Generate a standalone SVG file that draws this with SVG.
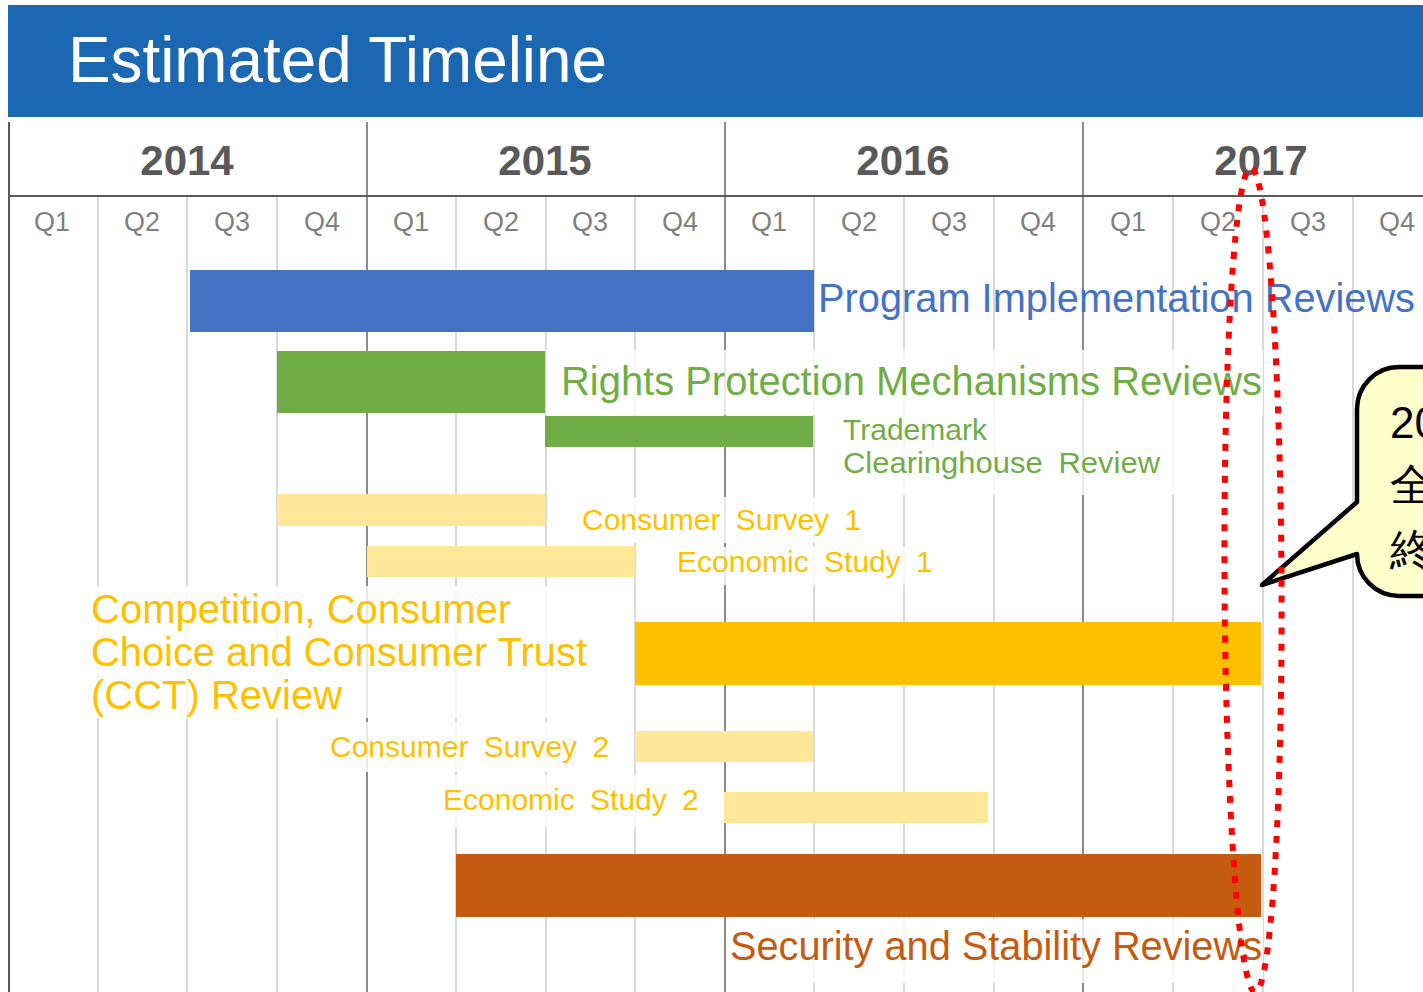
<svg xmlns="http://www.w3.org/2000/svg" width="1423" height="992" viewBox="0 0 1423 992">
<style>
  text { font-family: "Liberation Sans", Arial, sans-serif; }
  .yr { font-size: 42px; font-weight: bold; fill: #595959; text-anchor: middle; }
  .q { font-size: 27px; fill: #7f7f7f; text-anchor: middle; }
  .qline { stroke: #d9d9d9; stroke-width: 2; }
  .yline { stroke: #8c8c8c; stroke-width: 2; }
  .big { font-size: 40px; }
  .small { font-size: 30px; word-spacing: 7px; }
  .bg { fill: #ffffff; opacity: 0.8; }
</style>
<rect x="0" y="0" width="1423" height="992" fill="#ffffff"/>

<g id="header">
  <rect x="8" y="5" width="1415" height="112" fill="#1b67b1"/>
  <text x="68" y="82" font-size="64" fill="#ffffff" textLength="539" lengthAdjust="spacingAndGlyphs">Estimated Timeline</text>
</g>

<g id="grid">
  <g class="qline-set">
    <line class="qline" x1="98" y1="196" x2="98" y2="992"/>
    <line class="qline" x1="187" y1="196" x2="187" y2="992"/>
    <line class="qline" x1="277" y1="196" x2="277" y2="992"/>
    <line class="qline" x1="456" y1="196" x2="456" y2="992"/>
    <line class="qline" x1="546" y1="196" x2="546" y2="992"/>
    <line class="qline" x1="635" y1="196" x2="635" y2="992"/>
    <line class="qline" x1="814" y1="196" x2="814" y2="992"/>
    <line class="qline" x1="904" y1="196" x2="904" y2="992"/>
    <line class="qline" x1="994" y1="196" x2="994" y2="992"/>
    <line class="qline" x1="1173" y1="196" x2="1173" y2="992"/>
    <line class="qline" x1="1263" y1="196" x2="1263" y2="992"/>
    <line class="qline" x1="1353" y1="196" x2="1353" y2="992"/>
  </g>
  <line class="yline" x1="367" y1="122" x2="367" y2="992"/>
  <line class="yline" x1="725" y1="122" x2="725" y2="992"/>
  <line class="yline" x1="1083" y1="122" x2="1083" y2="992"/>
  <line x1="9" y1="122" x2="9" y2="992" stroke="#595959" stroke-width="2"/>
  <line x1="9" y1="196" x2="1423" y2="196" stroke="#595959" stroke-width="2"/>
  <text class="yr" x="187" y="175">2014</text>
  <text class="yr" x="545" y="175">2015</text>
  <text class="yr" x="903" y="175">2016</text>
  <text class="yr" x="1261" y="175">2017</text>
  <text class="q" x="52" y="231">Q1</text>
  <text class="q" x="142" y="231">Q2</text>
  <text class="q" x="232" y="231">Q3</text>
  <text class="q" x="322" y="231">Q4</text>
  <text class="q" x="411" y="231">Q1</text>
  <text class="q" x="501" y="231">Q2</text>
  <text class="q" x="590" y="231">Q3</text>
  <text class="q" x="680" y="231">Q4</text>
  <text class="q" x="769" y="231">Q1</text>
  <text class="q" x="859" y="231">Q2</text>
  <text class="q" x="949" y="231">Q3</text>
  <text class="q" x="1038" y="231">Q4</text>
  <text class="q" x="1128" y="231">Q1</text>
  <text class="q" x="1218" y="231">Q2</text>
  <text class="q" x="1308" y="231">Q3</text>
  <text class="q" x="1397" y="231">Q4</text>
</g>

<g id="label-backgrounds">
  <rect class="bg" x="546" y="350" width="717" height="65"/>
  <rect class="bg" x="815" y="415" width="360" height="80"/>
  <rect class="bg" x="547" y="497" width="320" height="46"/>
  <rect class="bg" x="637" y="547" width="300" height="38"/>
  <rect class="bg" x="88" y="586" width="545" height="132"/>
  <rect class="bg" x="320" y="722" width="313" height="50"/>
  <rect class="bg" x="436" y="775" width="287" height="52"/>
  <rect class="bg" x="726" y="919" width="537" height="64"/>
</g>

<g id="program-implementation-reviews">
  <rect x="190" y="270" width="624" height="62" fill="#4472c4"/>
  <text class="big" x="818" y="312" fill="#4472c4" textLength="597" lengthAdjust="spacingAndGlyphs">Program Implementation Reviews</text>
</g>

<g id="rights-protection-mechanisms-reviews">
  <rect x="277" y="351" width="268" height="62" fill="#70ad47"/>
  <text class="big" x="561" y="395" fill="#70ad47" textLength="701" lengthAdjust="spacingAndGlyphs">Rights Protection Mechanisms Reviews</text>
</g>

<g id="trademark-clearinghouse-review">
  <rect x="545" y="416" width="268" height="31" fill="#70ad47"/>
  <text class="small" fill="#70ad47"><tspan x="843" y="440">Trademark</tspan><tspan x="843" y="473" textLength="317" lengthAdjust="spacingAndGlyphs">Clearinghouse Review</tspan></text>
</g>

<g id="consumer-survey-1">
  <rect x="277" y="494" width="268" height="32" fill="#ffe699"/>
  <text class="small" x="582" y="530" fill="#ffc000">Consumer Survey 1</text>
</g>

<g id="economic-study-1">
  <rect x="367" y="546" width="268" height="31" fill="#ffe699"/>
  <text class="small" x="677" y="572" fill="#ffc000">Economic Study 1</text>
</g>

<g id="cct-review">
  <rect x="635" y="622" width="626" height="63" fill="#ffc000"/>
  <text class="big" fill="#ffc000"><tspan x="91" y="623">Competition, Consumer</tspan><tspan x="91" y="666" textLength="496" lengthAdjust="spacingAndGlyphs">Choice and Consumer Trust</tspan><tspan x="91" y="709">(CCT) Review</tspan></text>
</g>

<g id="consumer-survey-2">
  <rect x="635" y="731" width="178" height="31" fill="#ffe699"/>
  <text class="small" x="330" y="757" fill="#ffc000">Consumer Survey 2</text>
</g>

<g id="economic-study-2">
  <rect x="724" y="792" width="264" height="31" fill="#ffe699"/>
  <text class="small" x="443" y="810" fill="#ffc000">Economic Study 2</text>
</g>

<g id="security-stability-reviews">
  <rect x="456" y="854" width="805" height="63" fill="#c55a11"/>
  <text class="big" x="730" y="960" fill="#c55a11" textLength="532" lengthAdjust="spacingAndGlyphs">Security and Stability Reviews</text>
</g>

<g id="callout">
  <path d="M 1399 367 H 1450 V 596 H 1399 A 42 42 0 0 1 1357 554 L 1262 585 L 1357 502 V 409 A 42 42 0 0 1 1399 367 Z" fill="#ffffcc" stroke="#000000" stroke-width="4.5" stroke-linejoin="round"/>
  <text font-family="'Noto Sans CJK JP', 'Noto Sans', sans-serif" font-size="44" fill="#000000"><tspan x="1390" y="438">20</tspan><tspan x="1390" y="500">全</tspan><tspan x="1390" y="565">終</tspan></text>
</g>

<g id="connectors">
  <ellipse cx="1253" cy="580" rx="28.5" ry="412" fill="none" stroke="#ff0000" stroke-width="6" stroke-dasharray="7 9" transform="rotate(-0.3 1253 580)"/>
</g>
</svg>
